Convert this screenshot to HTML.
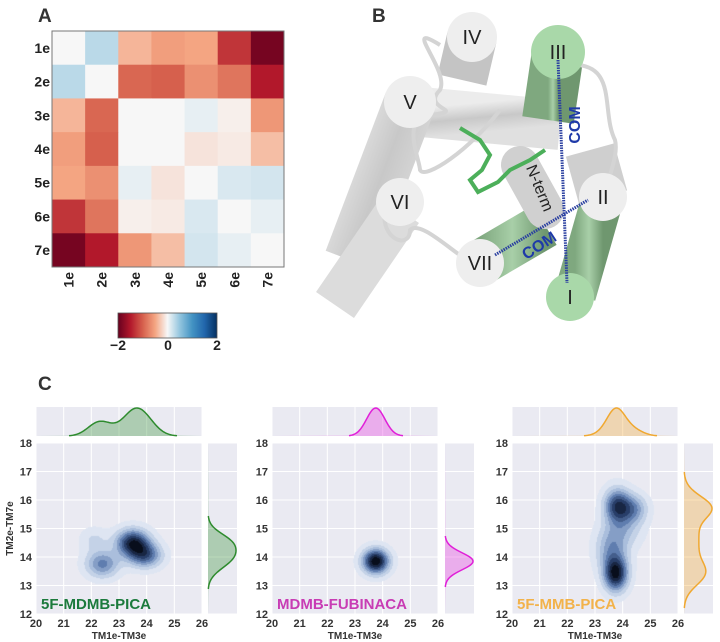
<!DOCTYPE html>
<html><head><meta charset="utf-8">
<style>
body{margin:0;background:#fff;width:720px;height:642px;overflow:hidden;font-family:"Liberation Sans",sans-serif}
#root{position:relative;width:720px;height:642px}
svg{position:absolute;left:0;top:0}
canvas{position:absolute}
</style></head><body>
<div id="root">
<svg id="s" width="720" height="642">
<defs>
<linearGradient id="cb" x1="0" x2="1" y1="0" y2="0">
<stop offset="0" stop-color="#67001f"/><stop offset="0.125" stop-color="#b2182b"/><stop offset="0.25" stop-color="#d6604d"/><stop offset="0.375" stop-color="#f4a582"/><stop offset="0.5" stop-color="#f7f7f7"/><stop offset="0.625" stop-color="#92c5de"/><stop offset="0.75" stop-color="#4393c3"/><stop offset="0.875" stop-color="#2166ac"/><stop offset="1" stop-color="#053061"/>
</linearGradient>
<linearGradient id="gc" x1="0" x2="1" y1="0" y2="1"><stop offset="0" stop-color="#ececec"/><stop offset="0.5" stop-color="#c8c8c8"/><stop offset="1" stop-color="#e0e0e0"/></linearGradient>
<linearGradient id="gg" x1="0" x2="1" y1="0" y2="0"><stop offset="0" stop-color="#7fa87f"/><stop offset="0.5" stop-color="#a8cfa8"/><stop offset="1" stop-color="#6f976f"/></linearGradient>
</defs>
<text x="38" y="22" font-size="19" font-weight="bold" fill="#333">A</text>
<text x="372" y="22" font-size="19" font-weight="bold" fill="#333">B</text>
<text x="38" y="390" font-size="19" font-weight="bold" fill="#333">C</text>
<g id="heat"></g>
<g id="cbar">
<rect x="118" y="313" width="99" height="25" fill="url(#cb)" stroke="#555" stroke-width="0.8"/>
<text x="118" y="350" font-size="14" font-weight="bold" text-anchor="middle" fill="#222">−2</text>
<text x="168" y="350" font-size="14" font-weight="bold" text-anchor="middle" fill="#222">0</text>
<text x="217" y="350" font-size="14" font-weight="bold" text-anchor="middle" fill="#222">2</text>
</g>
<g id="struct">
<line x1="400" y1="110" x2="560" y2="125" stroke="url(#gc)" stroke-width="50"/>
<line x1="410" y1="102" x2="350" y2="260" stroke="url(#gc)" stroke-width="52"/>
<line x1="400" y1="210" x2="335" y2="305" stroke="#dcdcdc" stroke-width="46"/>
<line x1="472" y1="37" x2="462" y2="80" stroke="#c4c4c4" stroke-width="50"/>
<line x1="603" y1="197" x2="590" y2="150" stroke="#cfcfcf" stroke-width="50"/>
<line x1="603" y1="197" x2="575" y2="295" stroke="url(#gg)" stroke-width="42"/>
<line x1="558" y1="52" x2="548" y2="120" stroke="url(#gg)" stroke-width="52"/>
<line x1="480" y1="263" x2="545" y2="225" stroke="url(#gg)" stroke-width="46"/>
<line x1="520" y1="165" x2="545" y2="210" stroke="#d0d0d0" stroke-width="38" stroke-linecap="round"/>
<path d="M440,45 C400,20 450,70 440,90 C420,110 470,110 430,115 C400,118 420,160 420,170 C425,180 470,150 500,110" fill="none" stroke="#d4d4d4" stroke-width="4"/>
<path d="M565,65 C620,60 600,110 615,140 C620,160 600,190 610,195" fill="none" stroke="#d4d4d4" stroke-width="4"/>
<path d="M385,210 C380,240 410,250 410,230 C420,220 450,250 470,262" fill="none" stroke="#d4d4d4" stroke-width="4"/>
<circle cx="472" cy="37" r="25" fill="#eeeeee"/>
<circle cx="558" cy="52" r="27" fill="#a9d8a9"/>
<circle cx="410" cy="102" r="26" fill="#eeeeee"/>
<circle cx="603" cy="197" r="24" fill="#eeeeee"/>
<circle cx="400" cy="202" r="24" fill="#eeeeee"/>
<circle cx="480" cy="263" r="24" fill="#eeeeee"/>
<circle cx="570" cy="297" r="24" fill="#a9d8a9"/>
<g font-size="20" fill="#222" text-anchor="middle">
<text x="472" y="44">IV</text><text x="558" y="59">III</text><text x="410" y="109">V</text><text x="603" y="204">II</text><text x="400" y="209">VI</text><text x="480" y="270">VII</text><text x="570" y="304">I</text>
</g>
<text x="535" y="190" font-size="16" fill="#222" text-anchor="middle" transform="rotate(68 535 190)">N-term</text>
<path d="M460,128 L480,140 L490,155 L482,170 L470,180 L478,192 L498,182 L510,170 L530,160 L545,150" fill="none" stroke="#4caf5a" stroke-width="4"/>
<line x1="558" y1="60" x2="567" y2="283" stroke="#2a3fa0" stroke-width="3" stroke-dasharray="1.5 1"/>
<line x1="495" y1="255" x2="588" y2="200" stroke="#2a3fa0" stroke-width="3" stroke-dasharray="1.5 1"/>
<text x="580" y="125" font-size="16" font-weight="bold" fill="#1f3aa8" text-anchor="middle" transform="rotate(-90 580 125)">COM</text>
<text x="542" y="250" font-size="16" font-weight="bold" fill="#1f3aa8" text-anchor="middle" transform="rotate(-33 542 250)">COM</text>
</g>
<g id="joint"></g>
</svg>
</div>
<script>
// ---- heatmap data ----
const hmLabels = ["1e","2e","3e","4e","5e","6e","7e"];
const hmValues = [
 [0,0.3,-0.4,-0.55,-0.5,-1.3,-1.9],
 [0.3,0,-0.95,-1.0,-0.65,-0.85,-1.5],
 [-0.4,-0.95,0,0,0.08,-0.05,-0.6],
 [-0.55,-1.0,0,0,-0.12,-0.08,-0.35],
 [-0.5,-0.65,0.08,-0.12,0,0.15,0.18],
 [-1.3,-0.85,-0.05,-0.08,0.15,0,0.08],
 [-1.9,-1.5,-0.6,-0.35,0.18,0.08,0]
];
// ---- joint plot data (KDE mixture components: x, y, weight, sx, sy) ----
const jpNames = ["5F-MDMB-PICA","MDMB-FUBINACA","5F-MMB-PICA"];
const jpComps1 = [[22.4,13.75,0.6,0.42,0.33],[23.5,14.5,1,0.42,0.33],[23.95,14.05,0.7,0.42,0.3],[22.1,14.6,0.2,0.35,0.3]];
const jpComps2 = [[23.75,13.85,1,0.33,0.3]];
const jpComps3 = [[23.8,15.8,0.8,0.33,0.42],[24.4,15.7,0.45,0.35,0.35],[23.75,13.4,1,0.3,0.42],[23.6,14.3,0.45,0.4,0.55],[24.1,15.0,0.25,0.45,0.45]];
const xTicks = [20,21,22,23,24,25,26];
const yTicks = [12,13,14,15,16,17,18];

const NS="http://www.w3.org/2000/svg";
function mk(tag,attrs,parent){const e=document.createElementNS(NS,tag);for(const k in attrs)e.setAttribute(k,attrs[k]);parent.appendChild(e);return e;}
const RdBu=[[103,0,31],[178,24,43],[214,96,77],[244,165,130],[247,247,247],[146,197,222],[67,147,195],[33,102,172],[5,48,97]];
function rdbu(v){let t=(v+2)/4;t=Math.max(0,Math.min(1,t))*8;const i=Math.min(7,Math.floor(t)),f=t-i;const a=RdBu[i],b=RdBu[i+1];return `rgb(${a.map((c,k)=>Math.round(c+(b[k]-c)*f)).join(",")})`;}

const heat=document.getElementById('heat');
const hx0=52,hy0=31,cw=(284-52)/7,ch=(267-31)/7;
hmValues.forEach((row,r)=>row.forEach((v,c)=>{
 const e=mk('rect',{x:hx0+c*cw,y:hy0+r*ch,width:cw+0.5,height:ch+0.5,fill:rdbu(v)},heat);
 
 
}));
mk('rect',{x:hx0,y:hy0,width:cw*7,height:ch*7,fill:'none',stroke:'#777','stroke-width':1},heat);
hmLabels.forEach((l,i)=>{
 const t=mk('text',{x:50,y:hy0+(i+0.5)*ch+5,'font-size':14,'font-weight':'bold','text-anchor':'end',fill:'#222'},heat);t.textContent=l;
 
 
 const cx=hx0+(i+0.5)*cw+5;
 const u=mk('text',{x:cx,y:272,'font-size':14,'font-weight':'bold','text-anchor':'end',fill:'#222',transform:`rotate(-90 ${cx} 272)`},heat);u.textContent=l;
 
 
});

const joint=document.getElementById('joint');
const panels=[
 {comps:jpComps1,mx:36,rx:208,color:'#2e8b2e',fill:'rgba(60,150,60,0.35)',lab:'#1b7a3c',ylab:true},
 {comps:jpComps2,mx:272,rx:445,color:'#e020d8',fill:'rgba(235,60,225,0.35)',lab:'#c83cb4',ylab:false},
 {comps:jpComps3,mx:512,rx:684,color:'#f0a830',fill:'rgba(245,175,60,0.35)',lab:'#f2b24a',ylab:false}
];
const MW=166,MY0=443,MY1=614,TY0=407,TY1=436,RW=29;
function dens(cs,x,y){let s=0;for(const c of cs)s+=c[2]*Math.exp(-0.5*(((x-c[0])/c[3])**2+((y-c[1])/c[4])**2));return s;}
function dx(cs,x){let s=0;for(const c of cs)s+=c[2]*c[4]*Math.exp(-0.5*((x-c[0])/c[3])**2);return s;}
function dy(cs,y){let s=0;for(const c of cs)s+=c[2]*c[3]*Math.exp(-0.5*((y-c[1])/c[4])**2);return s;}
const dark=[[222,229,242],[170,190,220],[95,125,175],[40,62,105],[8,14,28]];
function blue(t){t=Math.max(0,Math.min(1,t))*4;const i=Math.min(3,Math.floor(t)),f=t-i;const a=dark[i],b=dark[i+1];return a.map((c,k)=>Math.round(c+(b[k]-c)*f));}
panels.forEach((p,pi)=>{
 const g=mk('g',{},joint);
 
 
 const X=v=>p.mx+(v-20)/6*MW, Y=v=>MY1-(v-12)/6*(MY1-MY0);
 mk('rect',{x:p.mx,y:MY0,width:MW,height:MY1-MY0,fill:'#eaeaf2'},g);
 mk('rect',{x:p.mx,y:TY0,width:MW,height:TY1-TY0,fill:'#eaeaf2'},g);
 mk('rect',{x:p.rx,y:MY0,width:RW,height:MY1-MY0,fill:'#eaeaf2'},g);
 xTicks.forEach(v=>{
  mk('line',{x1:X(v),x2:X(v),y1:MY0,y2:MY1,stroke:'#fff','stroke-width':1},g);
  mk('line',{x1:X(v),x2:X(v),y1:TY0,y2:TY1,stroke:'#fff','stroke-width':1},g);
  const t=mk('text',{x:X(v),y:627,'font-size':11,'font-weight':'bold','text-anchor':'middle',fill:'#333'},g);t.textContent=v;
  
  
 });
 yTicks.forEach(v=>{
  mk('line',{x1:p.mx,x2:p.mx+MW,y1:Y(v),y2:Y(v),stroke:'#fff','stroke-width':1},g);
  mk('line',{x1:p.rx,x2:p.rx+RW,y1:Y(v),y2:Y(v),stroke:'#fff','stroke-width':1},g);
  const t=mk('text',{x:p.mx-4,y:Y(v)+4,'font-size':11,'font-weight':'bold','text-anchor':'end',fill:'#333'},g);t.textContent=v;
  
  
 });
 const xl=mk('text',{x:p.mx+MW/2,y:639,'font-size':10,'font-weight':'bold','text-anchor':'middle',fill:'#333'},g);xl.textContent='TM1e-TM3e';
 
 
 if(p.ylab){const yl=mk('text',{x:13,y:(MY0+MY1)/2,'font-size':10,'font-weight':'bold','text-anchor':'middle',fill:'#333',transform:`rotate(-90 13 ${(MY0+MY1)/2})`},g);yl.textContent='TM2e-TM7e';
  
  }
 const cv=document.createElement('canvas');cv.width=MW;cv.height=MY1-MY0;cv.style.left=p.mx+'px';cv.style.top=MY0+'px';
 
 
 document.getElementById('root').appendChild(cv);
 const ctx=cv.getContext('2d');const img=ctx.createImageData(cv.width,cv.height);
 let mx=0;const D=[];
 for(let j=0;j<cv.height;j++)for(let i=0;i<cv.width;i++){const xv=20+(i+0.5)/MW*6,yv=12+(cv.height-j-0.5)/cv.height*6;const d=dens(p.comps,xv,yv);D.push(d);if(d>mx)mx=d;}
 const N=9;
 D.forEach((d,k)=>{const r=d/mx;if(r<0.05)return;const lv=Math.min(N-1,Math.floor((r-0.05)/0.95*N));const c=blue(lv/(N-1));img.data[k*4]=c[0];img.data[k*4+1]=c[1];img.data[k*4+2]=c[2];img.data[k*4+3]=255;});
 ctx.putImageData(img,0,0);
 let mxX=0,ptsX=[];for(let i=0;i<=MW;i++){const v=dx(p.comps,20+i/MW*6);ptsX.push(v);if(v>mxX)mxX=v;}
 let dT=`M${p.mx},${TY1}`,lT='';ptsX.forEach((v,i)=>{const h=v/mxX;if(h<0.01)return;const yy=TY1-h*(TY1-TY0-1);dT+=` L${p.mx+i},${yy}`;lT+=(lT?' L':'M')+`${p.mx+i},${yy}`;});dT+=` L${p.mx+MW},${TY1} Z`;
 const tf=mk('path',{d:dT,fill:p.fill},g);
 const tl=mk('path',{d:lT,fill:'none',stroke:p.color,'stroke-width':1.5},g);
 const H=MY1-MY0;let mxY=0,ptsY=[];for(let j=0;j<=H;j++){const v=dy(p.comps,12+j/H*6);ptsY.push(v);if(v>mxY)mxY=v;}
 let dR=`M${p.rx},${MY1}`,lR='';ptsY.forEach((v,j)=>{const h=v/mxY;if(h<0.01)return;const xx=p.rx+h*(RW-1);dR+=` L${xx},${MY1-j}`;lR+=(lR?' L':'M')+`${xx},${MY1-j}`;});dR+=` L${p.rx},${MY0} Z`;
 const rf=mk('path',{d:dR,fill:p.fill},g);
 const rl=mk('path',{d:lR,fill:'none',stroke:p.color,'stroke-width':1.5},g);
});
const lsvg=document.createElementNS(NS,'svg');lsvg.setAttribute('width',720);lsvg.setAttribute('height',642);


document.getElementById('root').appendChild(lsvg);
panels.forEach((p,pi)=>{const t=mk('text',{x:p.mx+5,y:609,'font-size':15,'font-weight':'bold',fill:p.lab},lsvg);t.textContent=jpNames[pi];
 
 });
</script>
</body></html>
